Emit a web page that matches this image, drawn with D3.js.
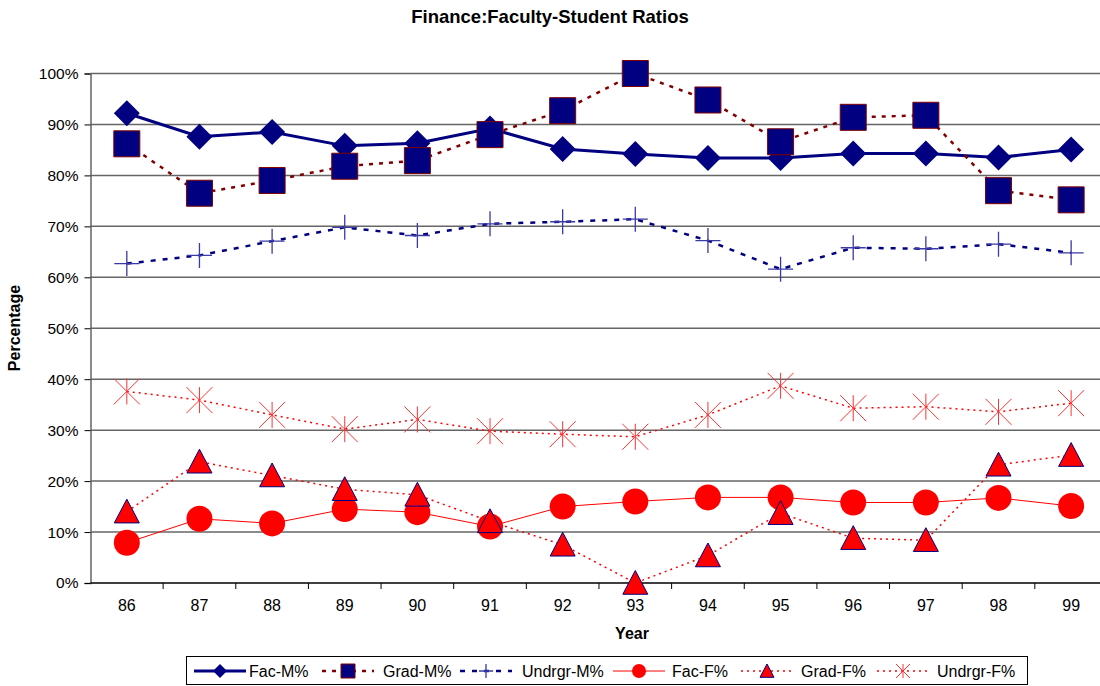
<!DOCTYPE html>
<html>
<head>
<meta charset="utf-8">
<script src="https://cdn.jsdelivr.net/npm/d3@7"></script>
<style>
  body { margin: 0; background: #fff; }
  svg { display: block; font-family: "Liberation Sans", Arial, sans-serif; }
</style>
</head>
<body>
<div id="chart"></div>
<script>
var years = ['86', '87', '88', '89', '90', '91', '92', '93', '94', '95', '96', '97', '98', '99'];
var facM = [92.2, 87.6, 88.5, 85.8, 86.3, 89.2, 85.2, 84.2, 83.4, 83.4, 84.3, 84.3, 83.5, 85.1];
var gradM = [86.2, 76.5, 79.0, 81.8, 82.9, 88.0, 92.7, 100, 94.8, 86.6, 91.4, 91.8, 77.0, 75.2];
var undrgrM = [62.7, 64.3, 67.1, 69.8, 68.2, 70.5, 70.9, 71.4, 67.2, 61.6, 65.8, 65.6, 66.5, 64.8];
var facF = [7.9, 12.6, 11.7, 14.5, 13.9, 11.1, 15.0, 16.0, 16.8, 16.8, 15.8, 15.8, 16.7, 15.1];
var gradF = [14.0, 23.8, 21.1, 18.4, 17.3, 12.1, 7.5, 0, 5.4, 13.7, 8.8, 8.4, 23.2, 25.1];
var undrgrF = [37.6, 35.9, 33.0, 30.2, 32.1, 29.8, 29.2, 28.7, 33.0, 38.7, 34.3, 34.6, 33.6, 35.3];
var yTicks = [0, 10, 20, 30, 40, 50, 60, 70, 80, 90, 100];

var width = 1100,
    height = 686;

var svg = d3.select('#chart').append('svg').attr('width', width).attr('height', height);

var x = d3.scaleBand().domain(years).range([90.5, 90.5 + 14 * 72.64]).padding(0);
var y = d3.scaleLinear().domain([0, 100]).range([583, 73.5]);
var cx = function(d) { return x(d) + x.bandwidth() / 2; };

// marker shapes
function marker(kind, s) {
  var h = s / 2;
  if (kind === 'diamond') return 'M0,' + (-h) + 'L' + h + ',0L0,' + h + 'L' + (-h) + ',0Z';
  if (kind === 'square') return 'M' + (-h) + ',' + (-h) + 'h' + s + 'v' + s + 'h' + (-s) + 'Z';
  if (kind === 'plus') return 'M' + (-h) + ',0H' + h + 'M0,' + (-h) + 'V' + h;
  if (kind === 'circle') return d3.arc()({ innerRadius: 0, outerRadius: h, startAngle: 0, endAngle: 2 * Math.PI });
  if (kind === 'triangle') return 'M0,' + (-h) + 'L' + h + ',' + (h * 0.9) + 'L' + (-h) + ',' + (h * 0.9) + 'Z';
  if (kind === 'asterisk') return 'M' + (-h) + ',' + (-h) + 'L' + h + ',' + h + 'M' + (-h) + ',' + h + 'L' + h + ',' + (-h) + 'M0,' + (-h) + 'V' + h;
}

var series = [
  { name: 'Fac-M%', values: facM, line: '#000080', lw: 3, dash: null, shape: 'diamond', fill: '#000080', stroke: 'none', sw: 0 },
  { name: 'Grad-M%', values: gradM, line: '#800000', lw: 2.5, dash: '4,6', shape: 'square', fill: '#000080', stroke: '#800000', sw: 1 },
  { name: 'Undrgr-M%', values: undrgrM, line: '#000080', lw: 2.5, dash: '5,7', shape: 'plus', fill: 'none', stroke: '#3a3aa6', sw: 1.3 },
  { name: 'Fac-F%', values: facF, line: '#FF0000', lw: 1, dash: null, shape: 'circle', fill: '#FF0000', stroke: 'none', sw: 0 },
  { name: 'Grad-F%', values: gradF, line: '#FF0000', lw: 1.5, dash: '2,4', shape: 'triangle', fill: '#FF0000', stroke: '#000080', sw: 1 },
  { name: 'Undrgr-F%', values: undrgrF, line: '#FF0000', lw: 1.5, dash: '2,4', shape: 'asterisk', fill: 'none', stroke: '#ff3333', sw: 1 }
];

// gridlines
svg.append('g').selectAll('line').data(yTicks.slice(1)).enter().append('line')
  .attr('x1', 90.5).attr('x2', width)
  .attr('y1', function(d) { return y(d); }).attr('y2', function(d) { return y(d); })
  .attr('stroke', '#666').attr('stroke-width', 1.5);

// y axis
var yAxis = d3.axisLeft(y).tickValues(yTicks).tickSize(6).tickPadding(6)
  .tickFormat(function(d) { return d + '%'; });
svg.append('g').attr('transform', 'translate(90.5,0)').call(yAxis)
  .call(function(g) {
    g.select('.domain').attr('stroke', '#666').attr('stroke-width', 1.5);
    g.selectAll('.tick line').attr('stroke', '#000');
    g.selectAll('text').attr('font-size', 15.5).attr('fill', '#000')
      .attr('font-family', '"Liberation Sans", Arial, sans-serif');
  });

// x axis: baseline, ticks between categories, labels at centres
svg.append('line').attr('x1', 90.5).attr('x2', width).attr('y1', y(0)).attr('y2', y(0))
  .attr('stroke', '#000').attr('stroke-width', 1.5);
svg.append('g').selectAll('line').data(years).enter().append('line')
  .attr('x1', function(d) { return x(d) + x.bandwidth(); })
  .attr('x2', function(d) { return x(d) + x.bandwidth(); })
  .attr('y1', y(0)).attr('y2', y(0) + 6)
  .attr('stroke', '#000');
svg.append('g').selectAll('text').data(years).enter().append('text')
  .attr('x', cx).attr('y', 611)
  .attr('text-anchor', 'middle').attr('font-size', 16)
  .text(function(d) { return d; });

// lines and markers
series.forEach(function(s) {
  var line = d3.line()
    .x(function(d, i) { return cx(years[i]); })
    .y(function(d) { return y(d); });
  svg.append('path')
    .attr('d', line(s.values))
    .attr('fill', 'none')
    .attr('stroke', s.line)
    .attr('stroke-width', s.lw)
    .attr('stroke-dasharray', s.dash);
  svg.append('g').selectAll('path').data(s.values).enter().append('path')
    .attr('transform', function(d, i) { return 'translate(' + cx(years[i]) + ',' + y(d) + ')'; })
    .attr('d', marker(s.shape, s.shape === 'triangle' ? 25 : (s.shape === 'plus' ? 25 : 26)))
    .attr('fill', s.fill)
    .attr('stroke', s.stroke)
    .attr('stroke-width', s.sw);
});

// titles
svg.append('text').attr('x', 550).attr('y', 23).attr('text-anchor', 'middle')
  .attr('font-size', 18.5).attr('font-weight', 'bold').text('Finance:Faculty-Student Ratios');
svg.append('text').attr('x', 632).attr('y', 639).attr('text-anchor', 'middle')
  .attr('font-size', 16).attr('font-weight', 'bold').text('Year');
svg.append('text').attr('transform', 'translate(20,328) rotate(-90)').attr('text-anchor', 'middle')
  .attr('font-size', 16).attr('font-weight', 'bold').text('Percentage');

// legend
var legend = svg.append('g');
legend.append('rect').attr('x', 186.5).attr('y', 656.5).attr('width', 841).attr('height', 28)
  .attr('fill', '#fff').attr('stroke', '#000');
var legendLine = [194, 322, 460, 613, 741, 877];
var legendText = [249, 383, 522, 672, 801, 937];
series.forEach(function(s, i) {
  var g = legend.append('g').attr('transform', 'translate(' + legendLine[i] + ',671)');
  g.append('line').attr('x1', 0).attr('x2', 52)
    .attr('stroke', s.line).attr('stroke-width', s.lw).attr('stroke-dasharray', s.dash);
  g.append('path').attr('transform', 'translate(26,0)')
    .attr('d', marker(s.shape, 14))
    .attr('fill', s.fill).attr('stroke', s.stroke).attr('stroke-width', s.sw);
  g.append('text').attr('x', legendText[i] - legendLine[i]).attr('y', 6).attr('font-size', 16).text(s.name);
});
</script>
</body>
</html>
